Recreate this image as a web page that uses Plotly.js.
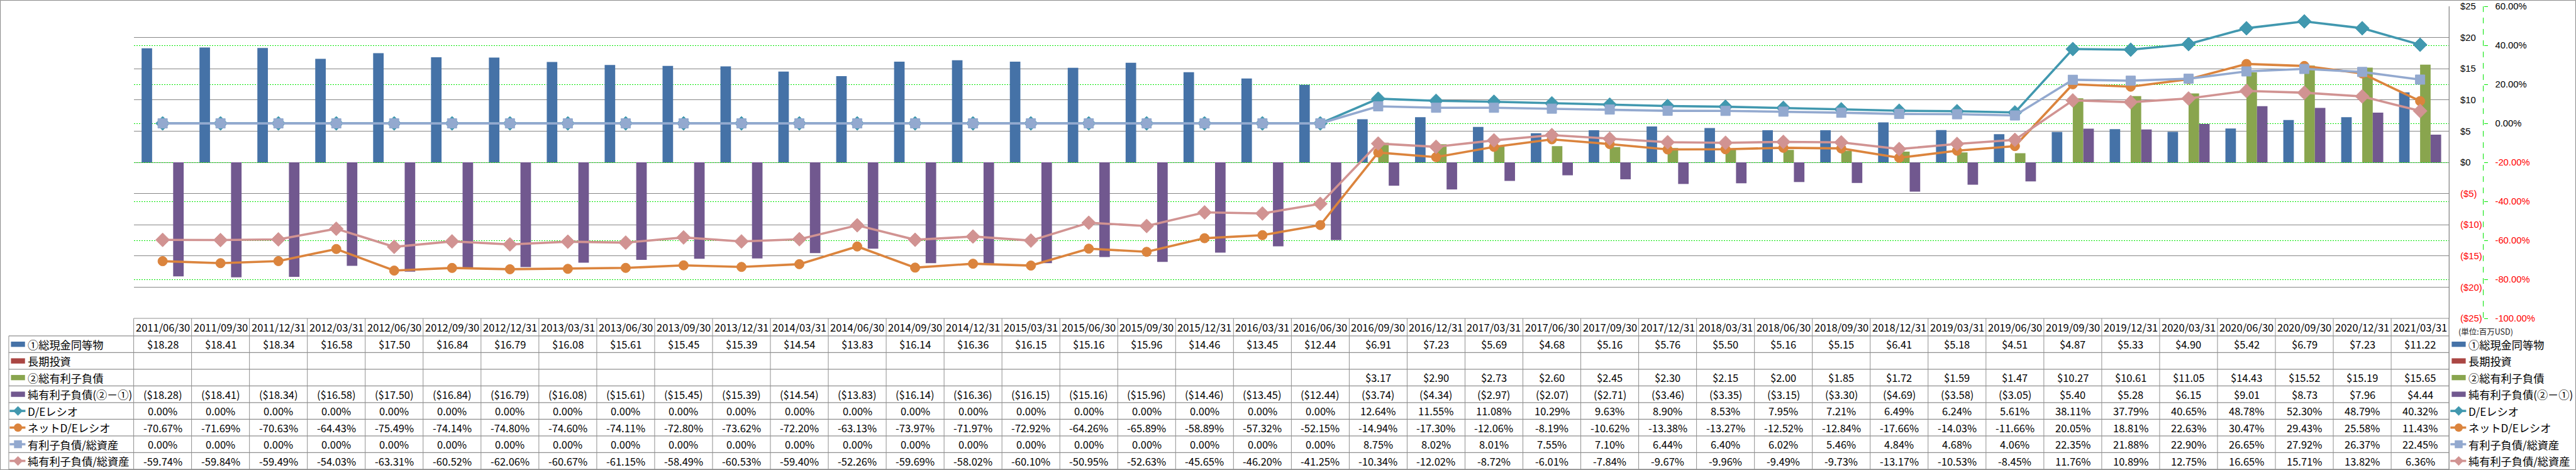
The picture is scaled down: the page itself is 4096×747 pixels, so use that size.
<!DOCTYPE html>
<html><head><meta charset="utf-8">
<script src="https://cdn.plot.ly/plotly-3.0.1.min.js"></script>
<style>html,body{margin:0;padding:0;background:#fff;}#chart{width:4096px;height:747px;}</style>
</head><body><div id="chart"></div>
<script>
// ---------------- DATA ----------------
const dates = ['2011/06/30','2011/09/30','2011/12/31','2012/03/31','2012/06/30','2012/09/30','2012/12/31','2013/03/31','2013/06/30','2013/09/30','2013/12/31','2014/03/31','2014/06/30','2014/09/30','2014/12/31','2015/03/31','2015/06/30','2015/09/30','2015/12/31','2016/03/31','2016/06/30','2016/09/30','2016/12/31','2017/03/31','2017/06/30','2017/09/30','2017/12/31','2018/03/31','2018/06/30','2018/09/30','2018/12/31','2019/03/31','2019/06/30','2019/09/30','2019/12/31','2020/03/31','2020/06/30','2020/09/30','2020/12/31','2021/03/31'];

const seriesNames = ['①総現金同等物','長期投資','②総有利子負債','純有利子負債(②－①)','D/Eレシオ','ネットD/Eレシオ','有利子負債/総資産','純有利子負債/総資産'];

// $ (百万USD)
const cash = [18.28,18.41,18.34,16.58,17.50,16.84,16.79,16.08,15.61,15.45,15.39,14.54,13.83,16.14,16.36,16.15,15.16,15.96,14.46,13.45,12.44,6.91,7.23,5.69,4.68,5.16,5.76,5.50,5.16,5.15,6.41,5.18,4.51,4.87,5.33,4.90,5.42,6.79,7.23,11.22];
const longInv = [null,null,null,null,null,null,null,null,null,null,null,null,null,null,null,null,null,null,null,null,null,null,null,null,null,null,null,null,null,null,null,null,null,null,null,null,null,null,null,null];
const debt = [null,null,null,null,null,null,null,null,null,null,null,null,null,null,null,null,null,null,null,null,null,3.17,2.90,2.73,2.60,2.45,2.30,2.15,2.00,1.85,1.72,1.59,1.47,10.27,10.61,11.05,14.43,15.52,15.19,15.65];
const netDebt = [-18.28,-18.41,-18.34,-16.58,-17.50,-16.84,-16.79,-16.08,-15.61,-15.45,-15.39,-14.54,-13.83,-16.14,-16.36,-16.15,-15.16,-15.96,-14.46,-13.45,-12.44,-3.74,-4.34,-2.97,-2.07,-2.71,-3.46,-3.35,-3.15,-3.30,-4.69,-3.58,-3.05,5.40,5.28,6.15,9.01,8.73,7.96,4.44];

// %
const deRatio = [0,0,0,0,0,0,0,0,0,0,0,0,0,0,0,0,0,0,0,0,0,12.64,11.55,11.08,10.29,9.63,8.90,8.53,7.95,7.21,6.49,6.24,5.61,38.11,37.79,40.65,48.78,52.30,48.79,40.32];
const netDeRatio = [-70.67,-71.69,-70.63,-64.43,-75.49,-74.14,-74.80,-74.60,-74.11,-72.80,-73.62,-72.20,-63.13,-73.97,-71.97,-72.92,-64.26,-65.89,-58.89,-57.32,-52.15,-14.94,-17.30,-12.06,-8.19,-10.62,-13.38,-13.27,-12.52,-12.84,-17.66,-14.03,-11.66,20.05,18.81,22.63,30.47,29.43,25.58,11.43];
const debtToAssets = [0,0,0,0,0,0,0,0,0,0,0,0,0,0,0,0,0,0,0,0,0,8.75,8.02,8.01,7.55,7.10,6.44,6.40,6.02,5.46,4.84,4.68,4.06,22.35,21.88,22.90,26.65,27.92,26.37,22.45];
const netDebtToAssets = [-59.74,-59.84,-59.49,-54.03,-63.31,-60.52,-62.06,-60.67,-61.15,-58.49,-60.53,-59.40,-52.26,-59.69,-58.02,-60.10,-50.95,-52.63,-45.65,-46.20,-41.25,-10.34,-12.02,-8.72,-6.01,-7.84,-9.67,-9.96,-9.49,-9.73,-13.17,-10.53,-8.45,11.76,10.89,12.75,16.65,15.71,13.82,6.36];

const dollarTicks = [-25,-20,-15,-10,-5,0,5,10,15,20,25];
const pctTicks = [-100,-80,-60,-40,-20,0,20,40,60];
const unitLabel = '(単位:百万USD)';

// ---------------- STYLE / GEOMETRY ----------------
const W = 4096, H = 747, S = 0.697;
const FONT = '"Noto Sans CJK JP", "Liberation Sans", sans-serif';
const TICKFONT = '"Liberation Sans", Arial, sans-serif';
const colors = ['#4572A7','#AA4643','#89A54E','#71588F','#4198AF','#DB843D','#93A9CF','#D19392'];
const RED = '#FF0000';
const GRID = '#868686', TLINE = '#8F8F8F', GREEN = '#00E600';

const X = px => px * S / W;           // original px -> paper x
const Y = py => 1 - py * S / H;       // original py -> paper y

const plotL = 305, plotR = 5587, plotT = 14.5, plotB = 726;
const pctAxisX = 5665;
const tableTop = 726, rowTop = 766, rowH = 38, nRows = 8, tableLeft = 20;
const tableBottom = rowTop + rowH * nRows;
const nCols = dates.length;
const colW = (plotR - plotL) / nCols;

const fmtMoney = v => v == null ? '' : (v < 0 ? '($' + (-v).toFixed(2) + ')' : '$' + v.toFixed(2));
const fmtPct = v => v == null ? '' : v.toFixed(2) + '%';
const dTick = v => v < 0 ? '<span style="color:' + RED + '">($' + (-v) + ')</span>' : '$' + v;
const pTick = v => v < 0 ? '<span style="color:' + RED + '">' + v.toFixed(2) + '%</span>' : v.toFixed(2) + '%';

// ---------------- TRACES ----------------
const barSeries = [cash, longInv, debt, netDebt];
const traces = [];
barSeries.forEach((arr, i) => {
  traces.push({type:'bar', x:dates, y:arr, name:seriesNames[i], yaxis:'y',
    marker:{color:colors[i], line:{width:0}}, hoverinfo:'skip', showlegend:false});
});
const lineSeries = [deRatio, netDeRatio, debtToAssets, netDebtToAssets];
const symbols = ['diamond','circle','square','diamond'];
const msizes = [17, 15, 15, 17];
lineSeries.forEach((arr, i) => {
  traces.push({type:'scatter', mode:'lines+markers', x:dates, y:arr, name:seriesNames[4+i], yaxis:'y2',
    line:{color:colors[4+i], width:3.6},
    marker:{symbol:symbols[i], size:msizes[i], color:colors[4+i], line:{width:1, color:colors[4+i]}},
    hoverinfo:'skip', showlegend:false, cliponaxis:false});
});

// ---------------- TABLE / LEGEND ----------------
const shapes = [];
const annotations = [];
const hline = (x0, x1, y, color, w) => shapes.push({type:'line', xref:'paper', yref:'paper', x0:X(x0), x1:X(x1), y0:Y(y), y1:Y(y), line:{color:color, width:w}});
const vline = (x, y0, y1, color, w, dash) => shapes.push({type:'line', xref:'paper', yref:'paper', x0:X(x), x1:X(x), y0:Y(y0), y1:Y(y1), line:{color:color, width:w, dash:dash || 'solid'}});

// outer border
shapes.push({type:'rect', xref:'paper', yref:'paper', x0:0.5/W, x1:1-0.5/W, y0:0.5/H, y1:1-0.5/H, line:{color:'#8A8A8A', width:1}});
// table horizontal lines
hline(plotL, plotR, tableTop, TLINE, 1.2);
for (let r = 0; r <= nRows; r++) hline(tableLeft, plotR, rowTop + r * rowH, TLINE, 1.2);
// table vertical lines
for (let c = 0; c <= nCols; c++) vline(plotL + c * colW, tableTop, tableBottom, TLINE, 1);
vline(tableLeft, rowTop, tableBottom, TLINE, 1);
vline(plotR, plotT, tableBottom, TLINE, 1);
// dashed percent axis line
vline(pctAxisX, plotT, plotB, GREEN, 1, 'dash');

// header dates
dates.forEach(d => annotations.push({xref:'x', yref:'paper', x:d, y:Y((tableTop + rowTop) / 2), text:d,
  showarrow:false, xanchor:'center', yanchor:'middle', font:{family:FONT, size:16.5, color:'#000'}}));

// table cells
const tableRows = [cash.map(fmtMoney), longInv.map(fmtMoney), debt.map(fmtMoney), netDebt.map(fmtMoney),
  deRatio.map(fmtPct), netDeRatio.map(fmtPct), debtToAssets.map(fmtPct), netDebtToAssets.map(fmtPct)];
tableRows.forEach((row, r) => {
  const cy = rowTop + rowH * (r + 0.5);
  row.forEach((txt, c) => {
    if (!txt) return;
    annotations.push({xref:'x', yref:'paper', x:dates[c], y:Y(cy), text:txt, showarrow:false,
      xanchor:'center', yanchor:'middle', font:{family:FONT, size:16.5, color:'#000'}});
  });
});

// legend keys + labels (left in table and right legend)
function legendEntry(keyX0, textX, r) {
  const cy = rowTop + rowH * (r + 0.5);
  const col = colors[r];
  const kx1 = keyX0 + 32;
  if (r < 4) {
    shapes.push({type:'rect', xref:'paper', yref:'paper', x0:X(keyX0), x1:X(kx1), y0:Y(cy + 6), y1:Y(cy - 6),
      fillcolor:col, line:{width:0}});
  } else {
    shapes.push({type:'line', xref:'paper', yref:'paper', x0:X(keyX0 - 3), x1:X(kx1 + 1), y0:Y(cy), y1:Y(cy), line:{color:col, width:3.6}});
    const cx = (keyX0 + kx1) / 2;
    const sym = symbols[r - 4];
    if (sym === 'diamond') {
      const h = 11;
      shapes.push({type:'path', xref:'paper', yref:'paper',
        path:'M ' + X(cx) + ',' + Y(cy - h) + ' L ' + X(cx + h) + ',' + Y(cy) + ' L ' + X(cx) + ',' + Y(cy + h) + ' L ' + X(cx - h) + ',' + Y(cy) + ' Z',
        fillcolor:col, line:{width:0}});
    } else if (sym === 'circle') {
      const h = 9.5;
      shapes.push({type:'circle', xref:'paper', yref:'paper', x0:X(cx - h), x1:X(cx + h), y0:Y(cy + h), y1:Y(cy - h), fillcolor:col, line:{width:0}});
    } else {
      const h = 9;
      shapes.push({type:'rect', xref:'paper', yref:'paper', x0:X(cx - h), x1:X(cx + h), y0:Y(cy + h), y1:Y(cy - h), fillcolor:col, line:{width:0}});
    }
  }
  annotations.push({xref:'paper', yref:'paper', x:X(textX), y:Y(cy), text:seriesNames[r], showarrow:false,
    xanchor:'left', yanchor:'middle', font:{family:FONT, size:17.2, color:'#000'}});
}
for (let r = 0; r < nRows; r++) {
  legendEntry(25, 60, r);
  legendEntry(5593, 5628, r);
}
annotations.push({xref:'paper', yref:'paper', x:X(5605), y:Y(755), text:unitLabel, showarrow:false,
  xanchor:'left', yanchor:'middle', font:{family:FONT, size:12.5, color:'#222'}});

// ---------------- LAYOUT ----------------
const layout = {
  width:W, height:H, margin:{l:0, r:0, t:0, b:0},
  paper_bgcolor:'#ffffff', plot_bgcolor:'rgba(0,0,0,0)',
  barmode:'group', bargap:0.273, bargroupgap:0, showlegend:false,
  font:{family:FONT, size:16, color:'#000'},
  xaxis:{type:'category', domain:[X(plotL), X(plotR)], range:[-0.5, nCols - 0.5],
    showticklabels:false, showgrid:false, zeroline:false, showline:false, ticks:'', fixedrange:true},
  yaxis:{domain:[Y(plotB), Y(plotT)], range:[-25, 25], side:'right', anchor:'x',
    tickmode:'array', tickvals:dollarTicks, ticktext:dollarTicks.map(dTick),
    showgrid:true, gridcolor:GRID, gridwidth:1, zeroline:false,
    showline:true, linecolor:TLINE, linewidth:1, ticks:'', ticklabelstandoff:14, ticklabeloverflow:'allow',
    tickfont:{family:TICKFONT, size:14.8, color:'#000'}, fixedrange:true},
  yaxis2:{overlaying:'y', side:'right', anchor:'free', position:X(pctAxisX), range:[-100, 60],
    tickmode:'array', tickvals:pctTicks, ticktext:pctTicks.map(pTick),
    showgrid:true, gridcolor:GREEN, gridwidth:1, griddash:'2px,2px', zeroline:false, showline:false,
    ticks:'outside', ticklen:6, tickcolor:GREEN, tickwidth:1, ticklabelstandoff:9, ticklabeloverflow:'allow',
    tickfont:{family:TICKFONT, size:14.8, color:'#000'}, fixedrange:true},
  shapes:shapes, annotations:annotations
};

Plotly.newPlot('chart', traces, layout, {staticPlot:true, displayModeBar:false});
</script>
</body></html>
